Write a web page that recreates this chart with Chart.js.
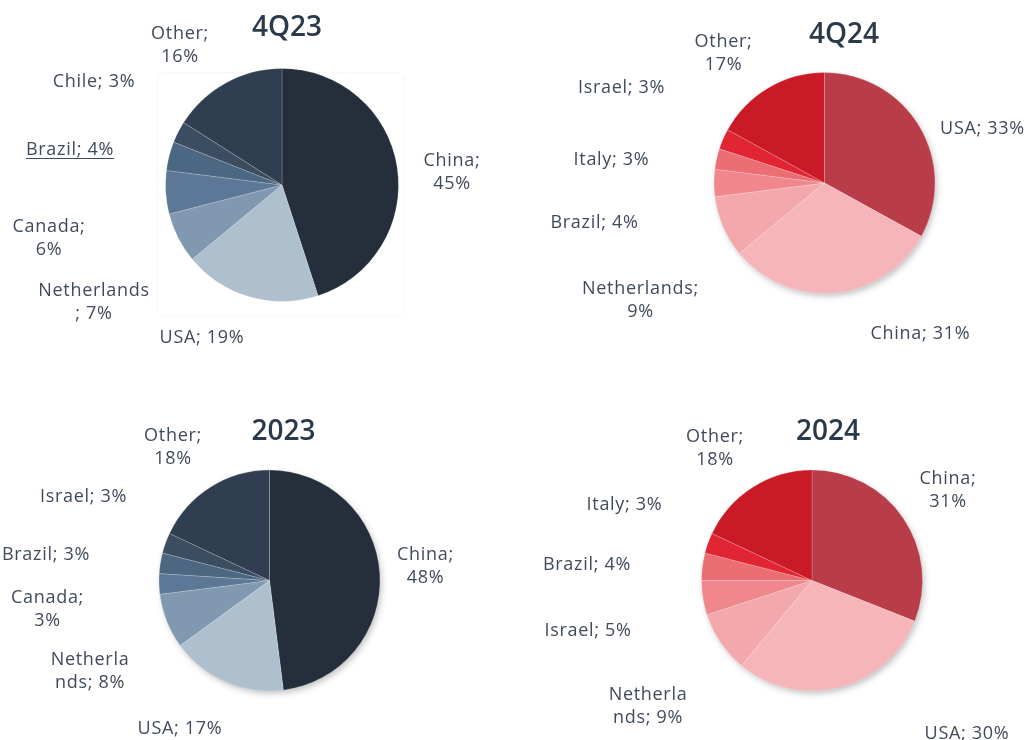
<!DOCTYPE html>
<html>
<head>
<meta charset="utf-8">
<title>Sales by country</title>
<script src="https://cdn.jsdelivr.net/npm/chart.js@4.4.0/dist/chart.umd.min.js"></script>
<style>
    body { margin: 0; background: #fff; }
    .page { position: relative; width: 1028px; height: 740px; overflow: hidden; }
    .pane { position: absolute; width: 514px; height: 370px; }
    .box { position: absolute; left: 157px; top: 72px; width: 246px; height: 243px;
           border: 1px solid #f8f8f8; border-radius: 8px; }
</style>
</head>
<body>
<div class="page">
    <div class="box"></div>
    <div class="pane" style="left:0;top:0"><canvas id="chart4Q23" width="514" height="370"></canvas></div>
    <div class="pane" style="left:514px;top:0"><canvas id="chart4Q24" width="514" height="370"></canvas></div>
    <div class="pane" style="left:0;top:370px"><canvas id="chart2023" width="514" height="370"></canvas></div>
    <div class="pane" style="left:514px;top:370px"><canvas id="chart2024" width="514" height="370"></canvas></div>
</div>
<script>
// --- data ---
const cats4Q23 = ['China', 'USA', 'Netherlands', 'Canada', 'Brazil', 'Chile', 'Other'];
const vals4Q23 = [45, 19, 7, 6, 4, 3, 16];

const cats4Q24 = ['USA', 'China', 'Netherlands', 'Brazil', 'Italy', 'Israel', 'Other'];
const vals4Q24 = [33, 31, 9, 4, 3, 3, 17];

const cats2023 = ['China', 'USA', 'Netherlands', 'Canada', 'Brazil', 'Israel', 'Other'];
const vals2023 = [48, 17, 8, 3, 3, 3, 18];

const cats2024 = ['China', 'USA', 'Netherlands', 'Israel', 'Brazil', 'Italy', 'Other'];
const vals2024 = [31, 30, 9, 5, 4, 3, 18];

// --- styles ---
const navyColors = ['#252f3c', '#aebfcd', '#8099b0', '#5c7896', '#4b6782', '#3b4d61', '#2f3e50'];
const redColors  = ['#b83d49', '#f6b5b9', '#f3a8ac', '#f0878d', '#ec6e75', '#e12533', '#c91a25'];
const FONT = "'Open Sans', 'DejaVu Sans', sans-serif";
const LABEL_COLOR = '#404b5a';
const TITLE_COLOR = '#2b3a4a';

// label anchors relative to pie centre: [dx, dy of first line, break index (0 = one line)]
const panels = [
    {
        id: 'chart4Q23', title: '4Q23', cats: cats4Q23, vals: vals4Q23, colors: navyColors,
        padding: { left: 165, right: 115, top: 68, bottom: 68 }, shadow: false,
        titleAt: [5, -157], underline: 4,
        labels: [[170, -26, 6], [-80, 151, 0], [-188, 104, 11], [-233, 40, 7],
                 [-212, -37, 0], [-188, -105, 0], [-102, -153, 6]]
    },
    {
        id: 'chart4Q24', title: '4Q24', cats: cats4Q24, vals: vals4Q24, colors: redColors,
        padding: { left: 199.5, right: 92.5, top: 72, bottom: 76 }, shadow: true,
        titleAt: [19.5, -148], underline: -1,
        labels: [[158, -56, 0], [96, 149, 0], [-184, 104, 12], [-230, 38, 0],
                 [-213, -25, 0], [-203, -97, 0], [-101, -143, 6]]
    },
    {
        id: 'chart2023', title: '2023', cats: cats2023, vals: vals2023, colors: navyColors,
        padding: { left: 158.5, right: 133.5, top: 99.5, bottom: 48.5 }, shadow: true,
        titleAt: [14, -148], underline: -1,
        labels: [[156, -27.5, 6], [-89.5, 146.5, 0], [-179.5, 77.5, 8], [-222, 15, 7],
                 [-223.5, -27.5, 0], [-186, -85.5, 0], [-96.5, -146.5, 6]]
    },
    {
        id: 'chart2024', title: '2024', cats: cats2024, vals: vals2024, colors: redColors,
        padding: { left: 187, right: 105, top: 99.5, bottom: 48.5 }, shadow: true,
        titleAt: [16, -148], underline: -1,
        labels: [[136, -104, 6], [155, 151.5, 0], [-164, 112, 8], [-224, 48.5, 0],
                 [-225, -18, 0], [-187.5, -78, 0], [-97, -146, 6]]
    }
];

// soft drop shadow under the pie
const shadowPlugin = {
    id: 'pieShadow',
    beforeDatasetsDraw(chart, args, opts) {
        if (!opts.enabled) return;
        const arc = chart.getDatasetMeta(0).data[0];
        if (!arc) return;
        const ctx = chart.ctx;
        ctx.save();
        ctx.shadowColor = 'rgba(0, 0, 0, 0.28)';
        ctx.shadowBlur = 7;
        ctx.shadowOffsetX = 2;
        ctx.shadowOffsetY = 3;
        ctx.fillStyle = '#ffffff';
        ctx.beginPath();
        ctx.arc(arc.x, arc.y, arc.outerRadius - 1, 0, Math.PI * 2);
        ctx.fill();
        ctx.restore();
    }
};

// title + outside labels "Country; NN%"
const labelPlugin = {
    id: 'sliceLabels',
    afterDatasetsDraw(chart, args, opts) {
        const meta = chart.getDatasetMeta(0);
        const cx = meta.data[0].x;
        const cy = meta.data[0].y;
        const ctx = chart.ctx;
        const cats = chart.data.labels;
        const vals = chart.data.datasets[0].data;

        ctx.save();
        ctx.textAlign = 'center';
        ctx.textBaseline = 'middle';

        ctx.fillStyle = TITLE_COLOR;
        ctx.font = '600 28px ' + FONT;
        ctx.fillText(opts.title, cx + opts.titleAt[0], cy + opts.titleAt[1]);

        ctx.font = '18px ' + FONT;
        ctx.letterSpacing = '0.7px';
        ctx.fillStyle = LABEL_COLOR;
        cats.forEach((cat, i) => {
            const [dx, dy, brk] = opts.labels[i];
            const text = `${cat}; ${vals[i]}%`;
            const lines = brk ? [text.slice(0, brk), text.slice(brk).trim()] : [text];
            lines.forEach((line, k) => {
                const x = cx + dx;
                const y = cy + dy + 2 + k * 23;
                ctx.fillText(line, x, y);
                if (i === opts.underline) {
                    const w = ctx.measureText(line).width;
                    ctx.fillRect(x - w / 2, y + 8, w, 1);
                }
            });
        });
        ctx.restore();
    }
};

panels.forEach(p => {
    new Chart(document.getElementById(p.id), {
        type: 'pie',
        data: {
            labels: p.cats,
            datasets: [{
                data: p.vals,
                backgroundColor: p.colors,
                borderColor: 'rgba(255, 255, 255, 0.18)',
                borderWidth: 1
            }]
        },
        options: {
            responsive: false,
            animation: false,
            events: [],
            layout: { padding: p.padding },
            plugins: {
                legend: { display: false },
                tooltip: { enabled: false },
                title: { display: false },
                pieShadow: { enabled: p.shadow },
                sliceLabels: { title: p.title, titleAt: p.titleAt, labels: p.labels, underline: p.underline }
            }
        },
        plugins: [shadowPlugin, labelPlugin]
    });
});
</script>
</body>
</html>
